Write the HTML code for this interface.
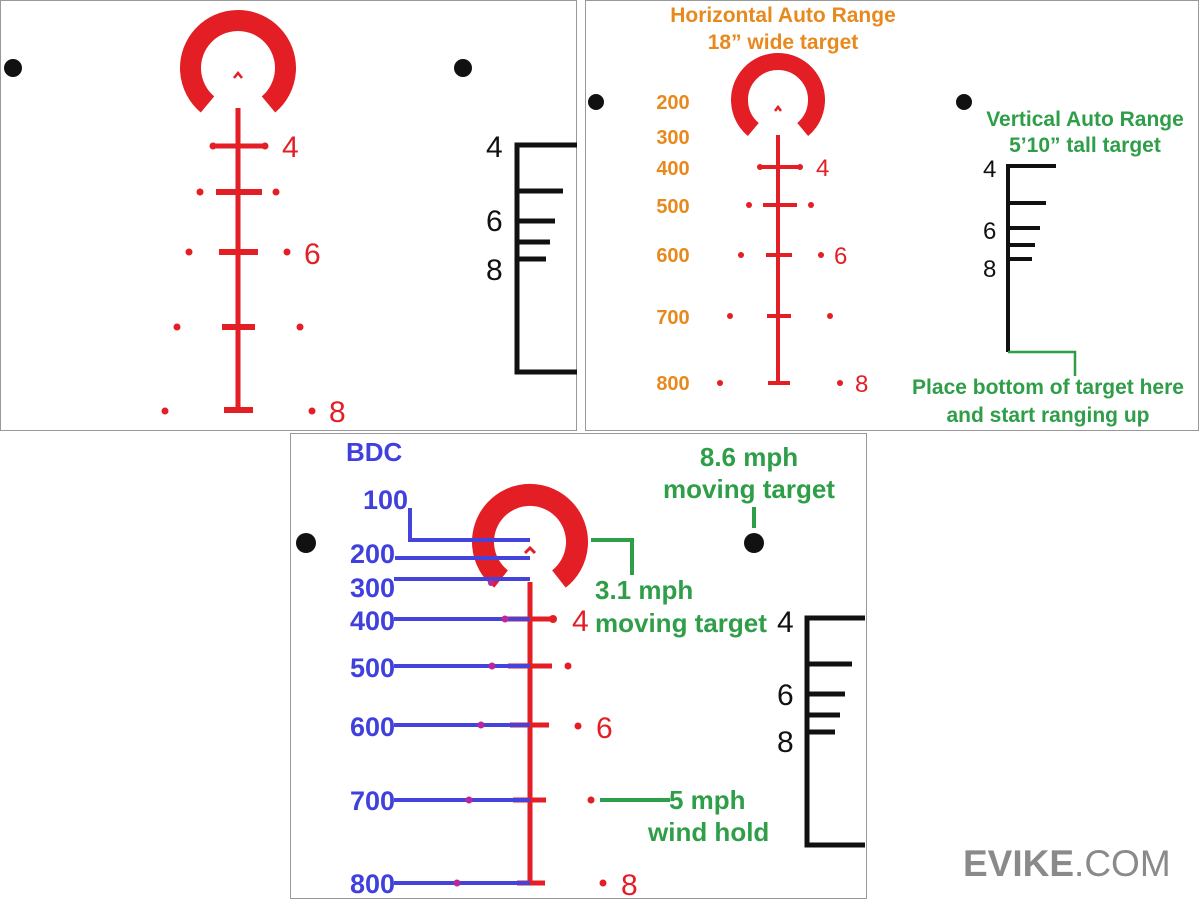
<!DOCTYPE html>
<html><head><meta charset="utf-8"><style>
html,body{margin:0;padding:0;background:#fff;}
svg{display:block;}
text{font-family:"Liberation Sans",sans-serif;}
.o{fill:#e8891e;font-weight:bold;font-size:21px;text-anchor:middle;}
.on{fill:#e8891e;font-weight:bold;font-size:20px;text-anchor:middle;}
.g{fill:#2f9e48;font-weight:bold;font-size:26px;}
.g2{fill:#2f9e48;font-weight:bold;font-size:21px;text-anchor:middle;}
.b{fill:#4040dd;font-weight:bold;font-size:27px;text-anchor:end;}
.r{fill:#e31e24;font-size:30px;}
.k{fill:#111;font-size:30px;}
</style></head><body>
<svg width="1200" height="900" viewBox="0 0 1200 900">
<rect x="0.5" y="0.5" width="576" height="430" fill="none" stroke="#999"/>
<rect x="585.5" y="0.5" width="613" height="430" fill="none" stroke="#999"/>
<rect x="290.5" y="433.5" width="576" height="465" fill="none" stroke="#999"/>

<!-- PANEL 1 -->
<g fill="#e31e24" stroke="#e31e24">
<path d="M207.5 104.4 A47.5 47.5 0 1 1 268.5 104.4" fill="none" stroke-width="21"/>
<path d="M234 78 L238 73 L242 78" fill="none" stroke-width="2.5"/>
<line x1="238" y1="108" x2="238" y2="410" stroke-width="5"/>
<line x1="213" y1="146" x2="265" y2="146" stroke-width="5"/>
<circle cx="213" cy="146" r="3.5" stroke="none"/><circle cx="265" cy="146" r="3.5" stroke="none"/>
<line x1="216" y1="192" x2="262" y2="192" stroke-width="6"/>
<circle cx="200" cy="192" r="3.5" stroke="none"/><circle cx="276" cy="192" r="3.5" stroke="none"/>
<line x1="219" y1="252" x2="258" y2="252" stroke-width="6"/>
<circle cx="189" cy="252" r="3.5" stroke="none"/><circle cx="287" cy="252" r="3.5" stroke="none"/>
<line x1="222" y1="327" x2="255" y2="327" stroke-width="6"/>
<circle cx="177" cy="327" r="3.5" stroke="none"/><circle cx="300" cy="327" r="3.5" stroke="none"/>
<line x1="224" y1="410" x2="253" y2="410" stroke-width="6"/>
<circle cx="165" cy="411" r="3.5" stroke="none"/><circle cx="312" cy="411" r="3.5" stroke="none"/>
</g>
<text class="r" x="282" y="157">4</text>
<text class="r" x="304" y="264">6</text>
<text class="r" x="329" y="422">8</text>
<circle cx="13" cy="68" r="9" fill="#111"/><circle cx="463" cy="68" r="9" fill="#111"/>
<g stroke="#111" stroke-width="5" fill="none">
<path d="M577 145 H517 V372 H577"/>
<line x1="517" y1="191" x2="563" y2="191"/>
<line x1="517" y1="221" x2="555" y2="221"/>
<line x1="517" y1="242" x2="550" y2="242"/>
<line x1="517" y1="259" x2="546" y2="259"/>
</g>
<text class="k" x="486" y="157">4</text>
<text class="k" x="486" y="231">6</text>
<text class="k" x="486" y="280">8</text>

<!-- PANEL 2 -->
<text class="o" x="783" y="22">Horizontal Auto Range</text>
<text class="o" x="783" y="49">18” wide target</text>
<g fill="#e31e24" stroke="#e31e24">
<path d="M753.3 129.5 A38.5 38.5 0 1 1 802.7 129.5" fill="none" stroke-width="17"/>
<path d="M775 111 L778 107 L781 111" fill="none" stroke-width="2.5"/>
<line x1="778" y1="135" x2="778" y2="383" stroke-width="4"/>
<line x1="760" y1="167" x2="800" y2="167" stroke-width="4"/>
<circle cx="760" cy="167" r="3" stroke="none"/><circle cx="800" cy="167" r="3" stroke="none"/>
<line x1="763" y1="205" x2="797" y2="205" stroke-width="4"/>
<circle cx="749" cy="205" r="3" stroke="none"/><circle cx="811" cy="205" r="3" stroke="none"/>
<line x1="766" y1="255" x2="792" y2="255" stroke-width="4"/>
<circle cx="741" cy="255" r="3" stroke="none"/><circle cx="821" cy="255" r="3" stroke="none"/>
<line x1="767" y1="316" x2="791" y2="316" stroke-width="4"/>
<circle cx="730" cy="316" r="3" stroke="none"/><circle cx="830" cy="316" r="3" stroke="none"/>
<line x1="768" y1="383" x2="790" y2="383" stroke-width="4"/>
<circle cx="720" cy="383" r="3" stroke="none"/><circle cx="840" cy="383" r="3" stroke="none"/>
</g>
<text class="r" x="816" y="176" style="font-size:24px">4</text>
<text class="r" x="834" y="264" style="font-size:24px">6</text>
<text class="r" x="855" y="392" style="font-size:24px">8</text>
<text class="on" x="673" y="109">200</text>
<text class="on" x="673" y="144">300</text>
<text class="on" x="673" y="175">400</text>
<text class="on" x="673" y="213">500</text>
<text class="on" x="673" y="262">600</text>
<text class="on" x="673" y="324">700</text>
<text class="on" x="673" y="390">800</text>
<circle cx="596" cy="102" r="8" fill="#111"/><circle cx="964" cy="102" r="8" fill="#111"/>
<text class="g2" x="1085" y="126">Vertical Auto Range</text>
<text class="g2" x="1085" y="152">5’10” tall target</text>
<g stroke="#111" stroke-width="4" fill="none">
<path d="M1056 166 H1008 V352"/>
<line x1="1008" y1="203" x2="1046" y2="203"/>
<line x1="1008" y1="228" x2="1040" y2="228"/>
<line x1="1008" y1="245" x2="1035" y2="245"/>
<line x1="1008" y1="259" x2="1032" y2="259"/>
</g>
<path d="M1008 352 H1075 V376" stroke="#2f9e48" stroke-width="2.5" fill="none"/>
<text class="k" x="983" y="177" style="font-size:24px">4</text>
<text class="k" x="983" y="239" style="font-size:24px">6</text>
<text class="k" x="983" y="277" style="font-size:24px">8</text>
<text class="g2" x="1048" y="394">Place bottom of target here</text>
<text class="g2" x="1048" y="422">and start ranging up</text>

<!-- PANEL 3 -->
<g fill="#e31e24" stroke="#e31e24">
<path d="M501.1 579 A47 47 0 1 1 558.9 579" fill="none" stroke-width="22"/>
<path d="M525 553 L530 548 L535 553" fill="none" stroke-width="3"/>
<line x1="530" y1="582" x2="530" y2="885" stroke-width="5"/>
<line x1="505" y1="619" x2="553" y2="619" stroke-width="5"/>
<circle cx="553" cy="619" r="4" stroke="none"/>
<line x1="508" y1="666" x2="552" y2="666" stroke-width="5"/>
<circle cx="568" cy="666" r="3.5" stroke="none"/>
<line x1="510" y1="725" x2="549" y2="725" stroke-width="5"/>
<circle cx="578" cy="726" r="3.5" stroke="none"/>
<line x1="513" y1="800" x2="546" y2="800" stroke-width="5"/>
<circle cx="591" cy="800" r="3.5" stroke="none"/>
<line x1="517" y1="883" x2="545" y2="883" stroke-width="5"/>
<circle cx="603" cy="883" r="3.5" stroke="none"/>
</g>
<g stroke="#4444dd" stroke-width="4" fill="none">
<path d="M410 508 V540 H530"/>
<line x1="395" y1="558" x2="530" y2="558"/>
<path d="M394 579 H530"/>
<line x1="394" y1="619" x2="530" y2="619"/>
<line x1="394" y1="666" x2="530" y2="666"/>
<line x1="394" y1="725" x2="530" y2="725"/>
<line x1="394" y1="800" x2="530" y2="800"/>
<line x1="394" y1="883" x2="530" y2="883"/>
</g>
<g fill="#b8289a">
<circle cx="505" cy="619" r="3.5"/><circle cx="492" cy="666" r="3.5"/><circle cx="481" cy="725" r="3.5"/><circle cx="469" cy="800" r="3.5"/><circle cx="457" cy="883" r="3.5"/><circle cx="491" cy="583" r="3"/>
</g>
<text class="b" x="346" y="461" style="text-anchor:start;font-size:26px">BDC</text>
<text class="b" x="408" y="509">100</text>
<text class="b" x="395" y="563">200</text>
<text class="b" x="395" y="597">300</text>
<text class="b" x="395" y="630">400</text>
<text class="b" x="395" y="677">500</text>
<text class="b" x="395" y="736">600</text>
<text class="b" x="395" y="810">700</text>
<text class="b" x="395" y="893">800</text>
<text class="r" x="572" y="631">4</text>
<text class="r" x="596" y="738">6</text>
<text class="r" x="621" y="895">8</text>
<path d="M591 540 H632 V575" stroke="#2f9e48" stroke-width="4" fill="none"/>
<text class="g" x="595" y="599">3.1 mph</text>
<text class="g" x="595" y="632">moving target</text>
<text class="g" x="749" y="466" text-anchor="middle">8.6 mph</text>
<text class="g" x="749" y="498" text-anchor="middle">moving target</text>
<line x1="754" y1="507" x2="754" y2="528" stroke="#2f9e48" stroke-width="4"/>
<circle cx="306" cy="543" r="10" fill="#111"/><circle cx="754" cy="543" r="10" fill="#111"/>
<line x1="600" y1="800" x2="670" y2="800" stroke="#2f9e48" stroke-width="4"/>
<text class="g" x="669" y="809">5 mph</text>
<text class="g" x="648" y="841">wind hold</text>
<g stroke="#111" stroke-width="5" fill="none">
<path d="M865 618 H807 V845 H865"/>
<line x1="807" y1="664" x2="852" y2="664"/>
<line x1="807" y1="694" x2="845" y2="694"/>
<line x1="807" y1="715" x2="840" y2="715"/>
<line x1="807" y1="732" x2="835" y2="732"/>
</g>
<text class="k" x="777" y="632">4</text>
<text class="k" x="777" y="705">6</text>
<text class="k" x="777" y="752">8</text>

<text x="963" y="876" style="font-size:37px;fill:#8a8a8a;"><tspan font-weight="bold">EVIKE</tspan>.COM</text>
</svg>
</body></html>
